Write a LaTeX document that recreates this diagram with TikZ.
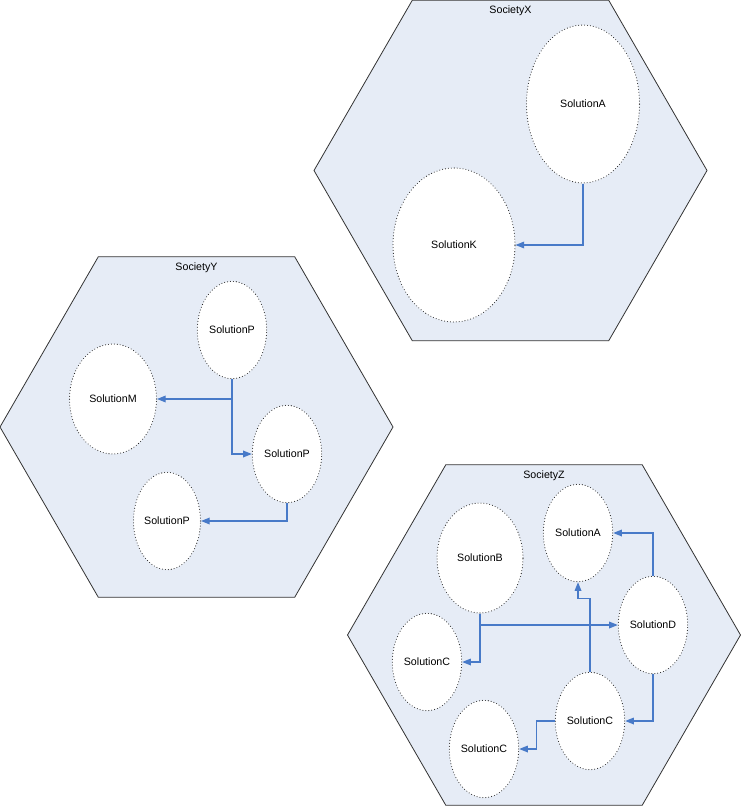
\documentclass[tikz,border=0pt]{standalone}
\usepackage{fontspec}
\setmainfont{Liberation Sans}
\usepackage{tikz}
\usetikzlibrary{arrows.meta,shapes.geometric,positioning}
\definecolor{socfill}{RGB}{230,236,246}
\definecolor{linkblue}{RGB}{72,122,200}

\begin{document}
\begin{tikzpicture}[x=0.75pt,y=-0.75pt,font=\fontsize{8}{10}\selectfont]
\tikzstyle{society}=[regular polygon,regular polygon sides=6,minimum size=294.75pt,inner sep=0pt,draw=black!80,fill=socfill,line width=0.6pt]
\tikzstyle{soln}=[ellipse,draw=black!85,line width=0.8pt,line cap=round,dash pattern=on 0pt off 2.2pt,fill=white,inner sep=0pt,minimum width=52pt,minimum height=73pt]
\tikzstyle{link}=[draw=linkblue,line width=0.9pt,-{Triangle[length=6.5pt,width=5pt]}]
\useasboundingbox (0,0) rectangle (741,806);
% societies
\node[society] (socx) at (510.5,170.5) {};
\node[society] (socy) at (196.5,427) {};
\node[society] (socz) at (544,635) {};
\node (tx) [below=1pt of socx.north] {SocietyX};
\node (ty) [below=1pt of socy.north] {SocietyY};
\node (tz) [below=1pt of socz.north] {SocietyZ};
% society X
\node[soln,minimum width=84.75pt,minimum height=118.5pt] (xa) at (583,104) {SolutionA};
\node[soln,minimum width=91.5pt,minimum height=115.5pt] (xk) at (454,245) {SolutionK};
\draw[link] (xa.south) |- (xk.east);
% society Y
\node[soln] (yp1) at (232,330) {SolutionP};
\node[soln,minimum width=65.25pt,minimum height=82.5pt] (ym) at (113,399) {SolutionM};
\node[soln] (yp2) at (287,454) {SolutionP};
\node[soln,minimum width=50.25pt] (yp3) at (167,521) {SolutionP};
\draw[link] (yp1.south) |- (ym.east);
\draw[link] (yp1.south) |- (yp2.west);
\draw[link] (yp2.south) |- (yp3.east);
% society Z
\node[soln,minimum width=64.5pt,minimum height=82.5pt] (zb) at (480,558) {SolutionB};
\node[soln] (za) at (578,533) {SolutionA};
\node[soln] (zd) at (653,625) {SolutionD};
\node[soln] (zcl) at (427,662) {SolutionC};
\node[soln] (zcr) at (590,721) {SolutionC};
\node[soln] (zcb) at (484,749) {SolutionC};
\draw[link] (zb.south) |- (zcl.east);
\draw[link] (zb.south) |- (zd.west);
\draw[link] (zcr.north) -- ++(0,-73) -| (za.south);
\draw[link] (zd.north) |- (za.east);
\draw[link] (zd.south) |- (zcr.east);
\draw[link] (zcr.west) -- ++(-18,0) |- (zcb.east);
\end{tikzpicture}
\end{document}
